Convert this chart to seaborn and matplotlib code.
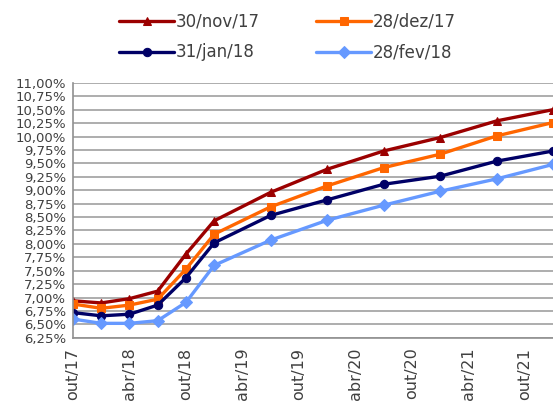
import numpy as np
import pandas as pd
import matplotlib
matplotlib.use("Agg")
import matplotlib.pyplot as plt
import seaborn as sns

# months counted from out/17
months = [0, 3, 6, 9, 12, 15, 21, 27, 33, 39, 45, 51]

nov17 = [6.94, 6.90, 6.98, 7.12, 7.81, 8.43, 8.96, 9.39, 9.73, 9.98, 10.29, 10.50]
dez17 = [6.88, 6.80, 6.86, 6.97, 7.53, 8.18, 8.69, 9.08, 9.42, 9.67, 10.01, 10.26]
jan18 = [6.72, 6.66, 6.69, 6.86, 7.37, 8.02, 8.53, 8.82, 9.11, 9.26, 9.54, 9.73]
fev18 = [6.60, 6.52, 6.52, 6.57, 6.91, 7.60, 8.07, 8.44, 8.72, 8.98, 9.21, 9.48]

series = ["30/nov/17", "28/dez/17", "31/jan/18", "28/fev/18"]
colors = ["#9B0000", "#FF6600", "#000066", "#6699FF"]
markers = ["^", "s", "o", "D"]

tick_months = [0, 6, 12, 18, 24, 30, 36, 42, 48]
tick_labels = ["out/17", "abr/18", "out/18", "abr/19", "out/19",
               "abr/20", "out/20", "abr/21", "out/21"]
y_ticks = np.arange(6.25, 11.01, 0.25)

df = pd.DataFrame({"mes": months * 4,
                   "taxa": nov17 + dez17 + jan18 + fev18,
                   "curva": np.repeat(series, len(months))})

sns.set_style("white")
plt.rcParams['font.family'] = ['DejaVu Sans']

fig = plt.figure(figsize=(5.53, 4.12), dpi=100)
ax = fig.add_axes([0.132, 0.180, 0.868, 0.619])

for name, col, mk in zip(series, colors, markers):
    sub = df[df["curva"] == name]
    sns.lineplot(data=sub, x="mes", y="taxa", ax=ax, color=col, marker=mk,
                 markersize=6, markeredgecolor=col, linewidth=2.4, label=name)

ax.set_xlim(0, 51)
ax.set_ylim(6.25, 11.0)
ax.set_yticks(y_ticks)
ax.set_yticklabels([("%.2f%%" % v).replace(".", ",") for v in y_ticks],
                   fontsize=9.5, color="#404040")
ax.set_xticks(tick_months)
ax.set_xticklabels(tick_labels, rotation=90, fontsize=11.5, color="#404040")
ax.yaxis.grid(True, color="#A0A0A0", linewidth=1.2)
ax.set_axisbelow(True)
ax.set_xlabel("")
ax.set_ylabel("")
for s in ["top", "right"]:
    ax.spines[s].set_visible(False)
for s in ["left", "bottom"]:
    ax.spines[s].set_color("#909090")
    ax.spines[s].set_linewidth(1.2)
ax.tick_params(axis="x", direction="inout", length=8, color="#909090", width=1.2, pad=3)
ax.tick_params(axis="y", direction="out", length=4, color="#909090", width=1.2, pad=1)

h, l = ax.get_legend_handles_labels()
ax.legend_.remove()
order = [0, 2, 1, 3]
fig.legend([h[i] for i in order], [l[i] for i in order], loc="upper center",
           bbox_to_anchor=(0.52, 1.005), ncol=2, frameon=False, fontsize=12,
           handlelength=3.3, handletextpad=0.1, columnspacing=3.4,
           labelspacing=0.75, labelcolor="#404040")

fig.savefig("out.png", dpi=100)
